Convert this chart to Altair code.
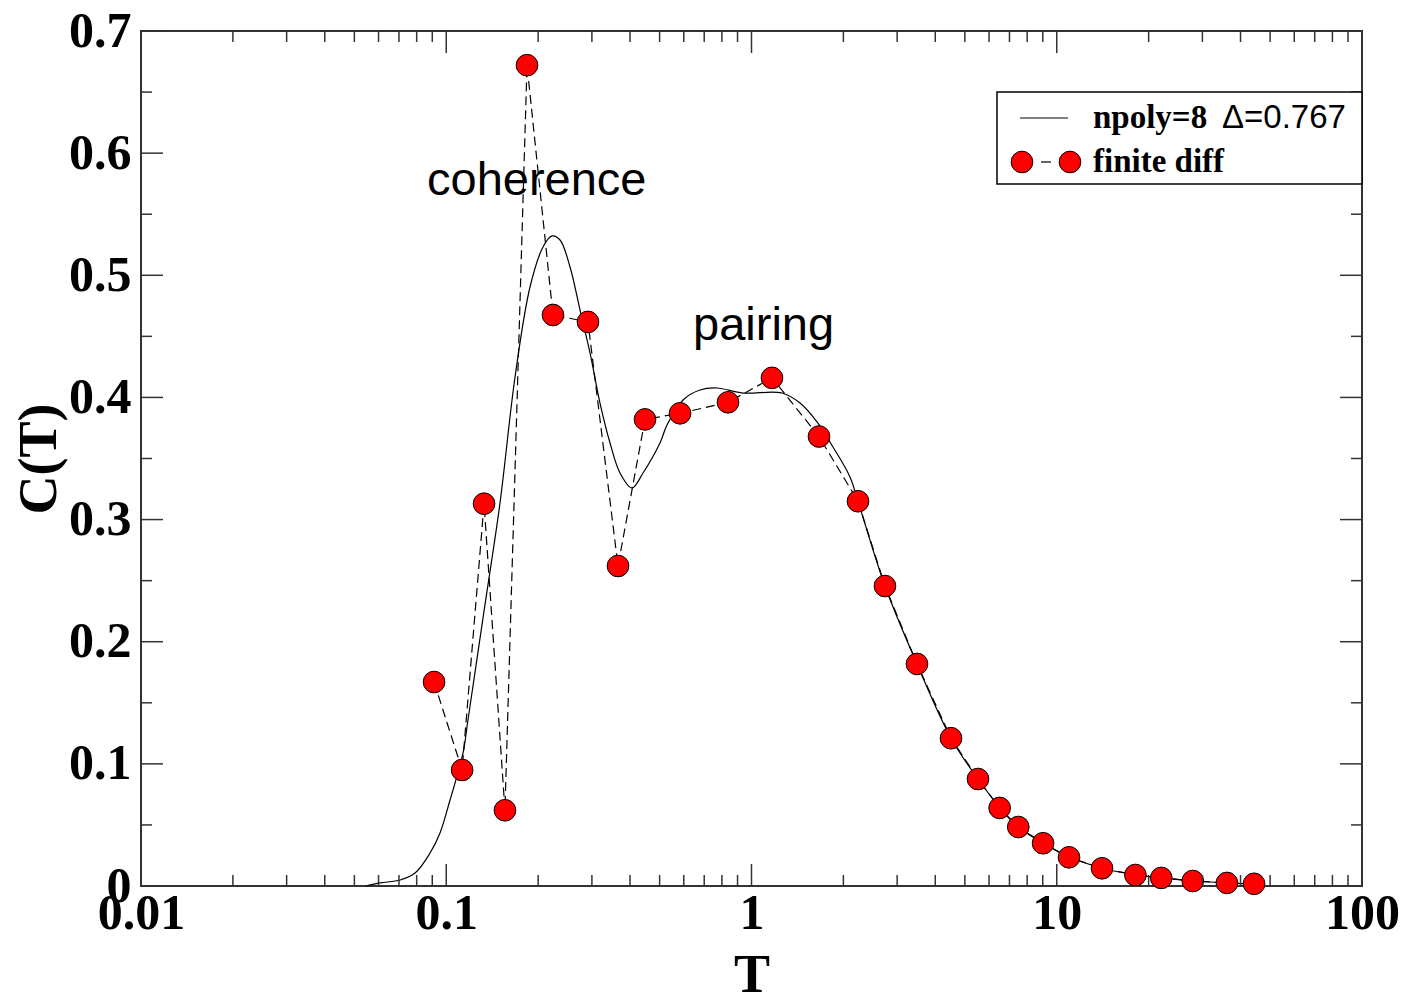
import altair as alt
import pandas as pd

# finite-difference points
diff_T = [0.0912, 0.1127, 0.1330, 0.1557, 0.1839, 0.2237, 0.2913, 0.3653, 0.4478, 0.5833,
          0.8375, 1.167, 1.664, 2.233, 2.737, 3.485, 4.504, 5.521, 6.50, 7.48, 9.02,
          10.97, 14.07, 18.1, 22.0, 27.9, 36.1, 44.3]
diff_C = [0.167, 0.095, 0.313, 0.062, 0.672, 0.4675, 0.4618, 0.262, 0.382, 0.387,
          0.396, 0.416, 0.368, 0.315, 0.2456, 0.1818, 0.121, 0.0876, 0.0639, 0.0483, 0.0350,
          0.0235, 0.0145, 0.009, 0.0066, 0.0041, 0.0025, 0.0018]

# npoly=8 fit curve
fit_T = [0.0546, 0.0607, 0.0706, 0.0790, 0.0885, 0.0954, 0.1029, 0.1135, 0.1178, 0.1330,
         0.1500, 0.1680, 0.1881, 0.2075, 0.2221, 0.2359, 0.2544, 0.2743, 0.2958, 0.3189,
         0.3440, 0.3709, 0.4060, 0.4411, 0.5014, 0.5287, 0.5966, 0.6781, 0.7709, 0.9379,
         1.2587, 1.4417, 1.6392, 1.8493, 2.1019, 2.233, 2.737, 3.485, 4.504, 5.521, 6.52,
         7.47, 9.02, 10.97, 14.07, 18.18, 22.12, 27.95, 36.1, 44.3]
fit_C = [0.0, 0.0025, 0.0049, 0.0106, 0.027, 0.0434, 0.0704, 0.1089, 0.1359, 0.2252,
         0.3136, 0.4167, 0.4904, 0.5232, 0.5322, 0.5289, 0.5068, 0.4716, 0.4364, 0.3954,
         0.3627, 0.3381, 0.3259, 0.3381, 0.3627, 0.3774, 0.3979, 0.4061, 0.4077, 0.4036,
         0.4036, 0.3954, 0.3799, 0.3594, 0.3349, 0.315, 0.2456, 0.1818, 0.121, 0.0876, 0.0639,
         0.0483, 0.0352, 0.0237, 0.0147, 0.009, 0.0066, 0.0041, 0.0025, 0.0016]

x_major = [0.01, 0.1, 1, 10, 100]
x_minor = [k * 10.0 ** d for d in range(-2, 2) for k in range(2, 10)]
y_major = [0, 0.1, 0.2, 0.3, 0.4, 0.5, 0.6, 0.7]
y_minor = [0.05, 0.15, 0.25, 0.35, 0.45, 0.55, 0.65]

W, H = 1221, 855
SERIF = "Liberation Serif"
SANS = "Liberation Sans"
TICK = "#333333"

xs = alt.Scale(type="log", domain=[0.01, 100], nice=False)
ys = alt.Scale(domain=[0, 0.7], nice=False, zero=False)

diff_df = pd.DataFrame({"T": diff_T, "C": diff_C})
fit_df = pd.DataFrame({"T": fit_T, "C": fit_C})

xaxis = alt.Axis(values=x_major, format="~g", tickSize=0, domain=False, grid=False,
                 labelFont=SERIF, labelFontSize=50, labelFontWeight="bold", labelColor="black",
                 labelPadding=2, labelFlush=False, labelOverlap=False,
                 title="T", titleFont=SERIF, titleFontSize=54, titleFontWeight="bold",
                 titleColor="black", titlePadding=10)
yaxis = alt.Axis(values=y_major, format="~g", tickSize=0, domain=False, grid=False,
                 labelFont=SERIF, labelFontSize=50, labelFontWeight="bold", labelColor="black",
                 labelPadding=10, labelFlush=False, labelOverlap=False,
                 title="C(T)", titleFont=SERIF, titleFontSize=54, titleFontWeight="bold",
                 titleColor="black", titlePadding=2)

X = alt.X("T:Q", scale=xs, axis=xaxis)
Y = alt.Y("C:Q", scale=ys, axis=yaxis)

fit_line = alt.Chart(fit_df).mark_line(color="black", strokeWidth=1.2,
                                       interpolate="catmull-rom").encode(x=X, y=Y)
diff_line = alt.Chart(diff_df).mark_line(color="black", strokeWidth=1.2,
                                         strokeDash=[9, 5]).encode(x=X, y=Y)
diff_pts = alt.Chart(diff_df).mark_circle(size=470, color="#ff0000", stroke="black",
                                          strokeWidth=1, opacity=1).encode(x=X, y=Y)

ann_df = pd.DataFrame({"T": [0.0865, 0.6434], "C": [0.577, 0.4585], "txt": ["coherence", "pairing"]})
ann = alt.Chart(ann_df).mark_text(align="left", baseline="middle", font=SANS, fontSize=47,
                                  color="black").encode(x=X, y=Y, text="txt:N")

# inward ticks on all four sides
def xticks(vals, length):
    df = pd.DataFrame({"T": vals})
    base = alt.Chart(df).mark_rule(color=TICK, strokeWidth=1.5)
    bot = base.encode(x=X, y=alt.value(H), y2=alt.value(H - length))
    top = base.encode(x=X, y=alt.value(0), y2=alt.value(length))
    return [bot, top]

def yticks(vals, length):
    df = pd.DataFrame({"C": vals})
    base = alt.Chart(df).mark_rule(color=TICK, strokeWidth=1.5)
    left = base.encode(y=Y, x=alt.value(0), x2=alt.value(length))
    right = base.encode(y=Y, x=alt.value(W), x2=alt.value(W - length))
    return [left, right]

ticks = xticks(x_major, 22) + xticks(x_minor, 11) + yticks(y_major, 22) + yticks(y_minor, 11)

# legend (drawn in pixel space)
one = pd.DataFrame({"a": [0]})
leg_box = alt.Chart(one).mark_rect(fill="white", stroke="black", strokeWidth=1.5).encode(
    x=alt.value(856), x2=alt.value(W), y=alt.value(61), y2=alt.value(153))
leg_line = alt.Chart(one).mark_rule(color="black", strokeWidth=1.2).encode(
    x=alt.value(879), x2=alt.value(927), y=alt.value(87))
leg_dash = alt.Chart(one).mark_rule(color="black", strokeWidth=1.2).encode(
    x=alt.value(900), x2=alt.value(910), y=alt.value(131))
leg_pts = alt.Chart(one).mark_circle(
    size=470, color="#ff0000", stroke="black", strokeWidth=1, opacity=1).encode(
    x=alt.value(881), y=alt.value(131))
leg_pts2 = alt.Chart(one).mark_circle(
    size=470, color="#ff0000", stroke="black", strokeWidth=1, opacity=1).encode(
    x=alt.value(929), y=alt.value(131))
leg_t1 = alt.Chart(one).mark_text(
    align="left", baseline="middle", font=SERIF, fontSize=33, fontWeight="bold", color="black",
    text="npoly=8").encode(x=alt.value(952), y=alt.value(87))
leg_t2 = alt.Chart(one).mark_text(
    align="left", baseline="middle", font=SERIF, fontSize=33, fontWeight="bold", color="black",
    text="finite diff").encode(x=alt.value(952), y=alt.value(131))
leg_t3 = alt.Chart(one).mark_text(
    align="left", baseline="middle", font=SANS, fontSize=33, color="black",
    text="Δ=0.767").encode(x=alt.value(1081), y=alt.value(87))

chart = alt.layer(
    fit_line, diff_line, diff_pts, ann, *ticks,
    leg_box, leg_line, leg_dash, leg_pts, leg_pts2, leg_t1, leg_t2, leg_t3,
).properties(
    width=W, height=H,
    autosize=alt.AutoSizeParams(type="none"),
    padding={"left": 133, "top": 23, "right": 39, "bottom": 121},
    background="white",
).configure_view(stroke="#333333", strokeWidth=2)

chart.save("out.html", embed_options={"renderer": "svg", "actions": False})
